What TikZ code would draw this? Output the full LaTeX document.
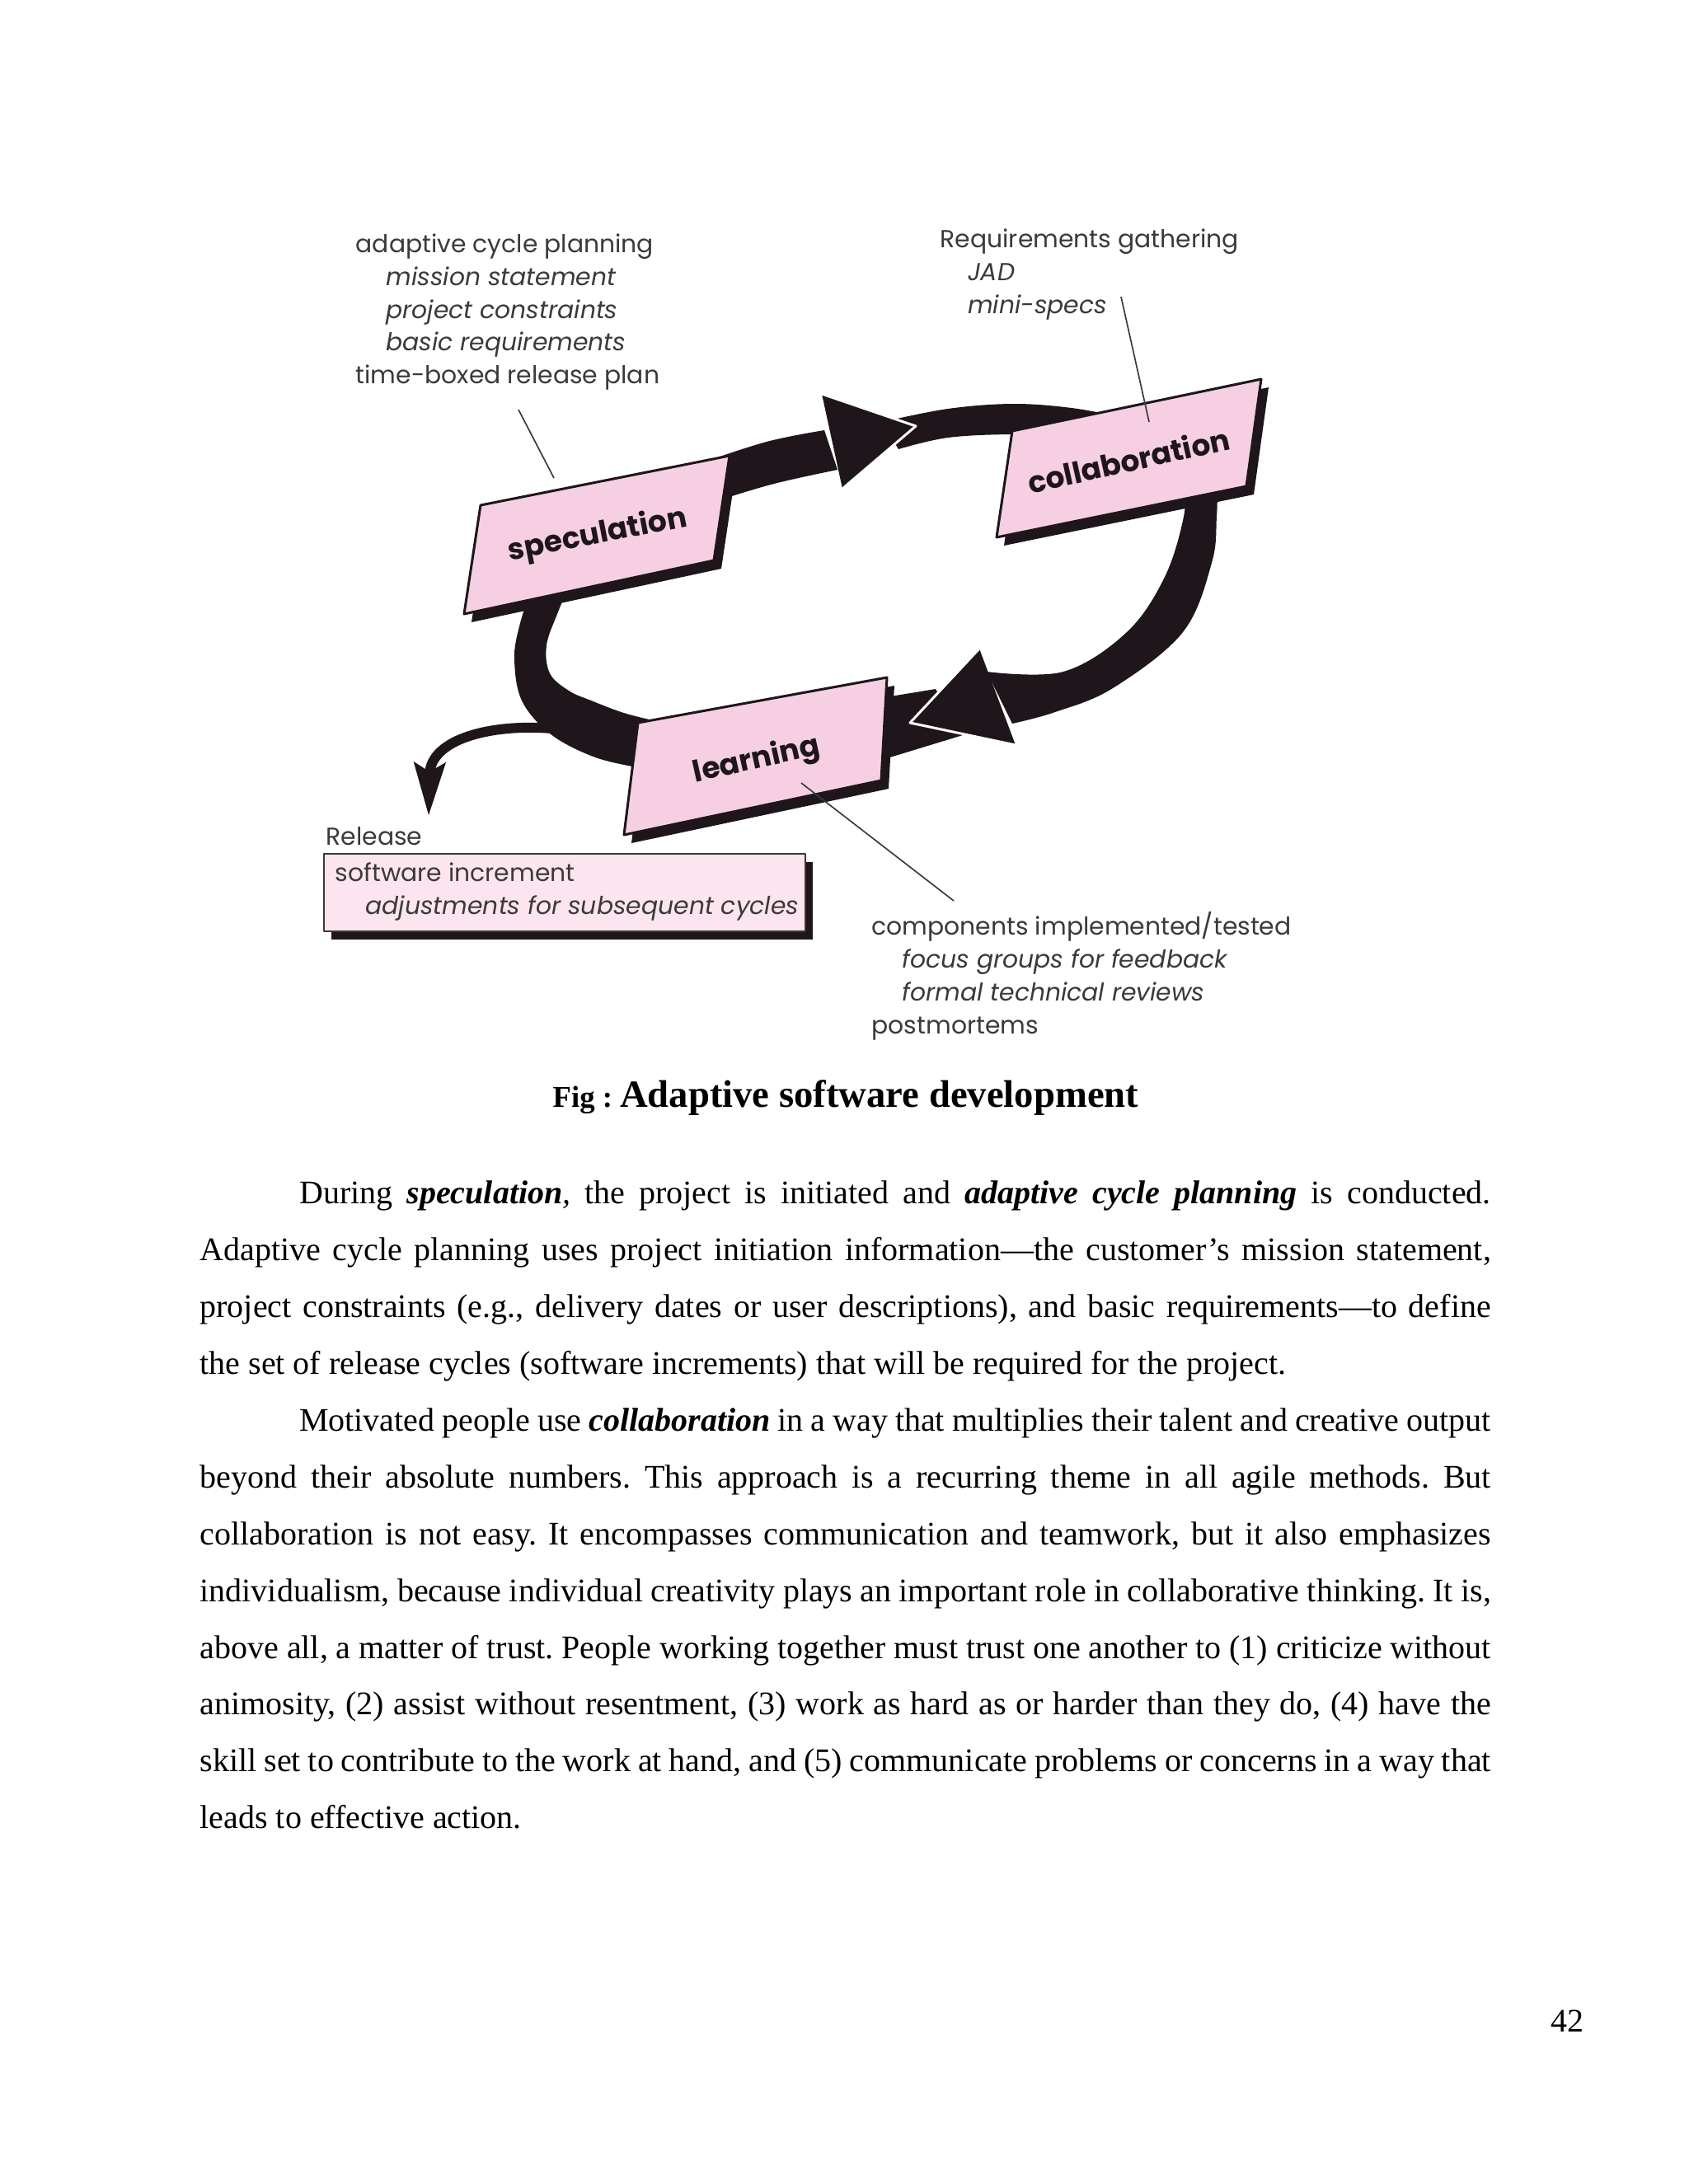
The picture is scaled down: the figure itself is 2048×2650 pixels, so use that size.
\documentclass[tikz,border=0pt]{standalone}
\usepackage{fontspec}
\setmainfont{Liberation Serif}
\newfontfamily\figfont{Poppins}
\usetikzlibrary{arrows.meta}

\definecolor{phasepink}{RGB}{246,208,226}
\definecolor{notepink}{RGB}{252,229,239}
\definecolor{ink}{RGB}{30,22,27}
\definecolor{notegray}{RGB}{58,58,58}

\begin{document}
\frenchspacing
\begin{tikzpicture}[
  x=0.29883bp,
  y=-0.29883bp,
  line join=round,
  band/.style={fill=ink},
  tipedge/.style={draw=white, line width=0.9bp},
  shade/.style={fill=ink},
  phase/.style={fill=phasepink, draw=ink, line width=0.9bp},
  notebox/.style={fill=notepink, draw=notegray, line width=0.8bp},
  phaselabel/.style={font=\figfont\bfseries\fontsize{10.8}{12}\selectfont, text=ink},
  note/.style={font=\figfont\fontsize{8.95}{11.95}\selectfont, text=notegray, align=left},
  leader/.style={draw=notegray, line width=0.5bp},
  release/.style={draw=ink, line width=3.6bp, -{Stealth[length=19bp,width=11bp,inset=3bp]}},
  para/.style={font=\fontsize{12}{20.68}\selectfont, text width=468bp, align=justify, anchor=north west},
  every node/.style={inner sep=0}
]
\path[use as bounding box] (0,0) rectangle (2048,2650);
\fill[white] (0,0) rectangle (2048,2650);

% Cycle bands
\fill[band] plot[smooth, tension=0.6] coordinates {(645,712) (630,760) (624,800) (633,850) (667,890) (717,917) (767,930) (810,936)}
  -- plot[smooth, tension=0.6] coordinates {(810,878) (760,866) (717,850) (690,838) (667,817) (663,783) (676,745) (690,712)} -- cycle;

\fill[band] plot[smooth, tension=0.6] coordinates {(850,562) (930,536) (1000,522)}
  -- plot[smooth, tension=0.6] coordinates {(1016,570) (935,588) (850,614)} -- cycle;
\fill[band] plot[smooth, tension=0.6] coordinates {(1070,512) (1150,496) (1229,490) (1300,495) (1360,506)}
  -- (1360,545) -- plot[smooth, tension=0.6] coordinates {(1290,530) (1229,527) (1150,531) (1090,545)} -- cycle;
\fill[band] (997,478) -- (1111,517) -- (1022,593) -- cycle;
\draw[tipedge] (997,478) -- (1111,517) -- (1022,593);

\fill[band] plot[smooth, tension=0.6] coordinates {(1477,585) (1476,627) (1470,683) (1435,767) (1350,835) (1280,864) (1228,878)}
  -- plot[smooth, tension=0.6] coordinates {(1197,815) (1290,815) (1367,767) (1413,700) (1436,627) (1437,585)} -- cycle;
\fill[band] (1050,850) -- (1135,836) -- (1168,892) -- (1050,928) -- cycle;
\fill[band] (1188,787) -- (1104,877) -- (1232,904) -- cycle;
\draw[tipedge] (1188,787) -- (1104,877) -- (1232,904);

% Release branch
\coordinate (relFrom) at (670,884);
\coordinate (relTo) at (520,990);
\draw[release] (relFrom) .. controls (600,878) and (522,895) .. (relTo);

% Phase boxes
\fill[shade, shift={(9,10)}] (583,613) -- (885,553) -- (866,680) -- (563,745) -- cycle;
\draw[phase] (583,613) -- (885,553) -- (866,680) -- (563,745) -- cycle;
\node[phaselabel, rotate=11] (spec) at (725,650) {speculation};

\fill[shade, shift={(9,10)}] (1228,523) -- (1530,460) -- (1512,590) -- (1209,652) -- cycle;
\draw[phase] (1228,523) -- (1530,460) -- (1512,590) -- (1209,652) -- cycle;
\node[phaselabel, rotate=12.5] (collab) at (1369,558) {collaboration};

\fill[shade, shift={(9,10)}] (774,877) -- (1076,822) -- (1069,947) -- (757,1013) -- cycle;
\draw[phase] (774,877) -- (1076,822) -- (1069,947) -- (757,1013) -- cycle;
\node[phaselabel, rotate=12.5] (learn) at (918,923) {learning};

% Notes and leaders
\node[note, anchor=north west] (planNote) at (431,283)
  {adaptive cycle planning\\
   \hspace*{11bp}\textit{mission statement}\\
   \hspace*{11bp}\textit{project constraints}\\
   \hspace*{11bp}\textit{basic requirements}\\
   time-boxed release plan};
\coordinate (planA) at (629,497);
\coordinate (planB) at (672,580);
\draw[leader] (planA) -- (planB);

\node[note, anchor=north west] (reqNote) at (1140,277)
  {Requirements gathering\\
   \hspace*{10bp}\textit{JAD}\\
   \hspace*{10bp}\textit{mini-specs}};
\coordinate (reqA) at (1360,360);
\coordinate (reqB) at (1394,512);
\draw[leader] (reqA) -- (reqB);

\coordinate (learnA) at (972,950);
\coordinate (learnB) at (1157,1093);
\draw[leader] (learnA) -- (learnB);
\node[note, anchor=north west] (learnNote) at (1057,1106)
  {components implemented/tested\\
   \hspace*{11bp}\textit{focus groups for feedback}\\
   \hspace*{11bp}\textit{formal technical reviews}\\
   postmortems};

% Release box
\node[note, anchor=west] (relLabel) at (395,1015) {Release};
\fill[shade] (402,1046) rectangle (986,1140);
\draw[notebox] (393,1036) rectangle (977,1130);
\node[note, anchor=north west] (relNote) at (406,1046)
  {software increment\\
   \hspace*{11bp}\textit{adjustments for subsequent cycles}};

% Caption, text and page number
\node[anchor=base] (caption) at (1026,1343)
  {\bfseries\fontsize{11}{13}\selectfont Fig : \fontsize{14}{16}\selectfont Adaptive software development};

\node[para] (body) at (242,1432)
  {\hspace*{36bp}During \textbf{\textit{speculation}}\textit{,} the project is initiated and \textbf{\textit{adaptive cycle planning}} is conducted.\linebreak
  Adaptive cycle planning uses project initiation information—the customer’s mission statement,\linebreak
  project constraints (e.g., delivery dates or user descriptions), and basic requirements—to define\linebreak
  the set of release cycles (software increments) that will be required for the project.\par
  \hspace*{36bp}Motivated people use \textbf{\textit{collaboration}} in a way that multiplies their talent and creative output\linebreak
  beyond their absolute numbers. This approach is a recurring theme in all agile methods. But\linebreak
  collaboration is not easy. It encompasses communication and teamwork, but it also emphasizes\linebreak
  individualism, because individual creativity plays an important role in collaborative thinking. It is,\linebreak
  above all, a matter of trust. People working together must trust one another to (1) criticize without\linebreak
  animosity, (2) assist without resentment, (3) work as hard as or harder than they do, (4) have the\linebreak
  skill set to contribute to the work at hand, and (5) communicate problems or concerns in a way that\linebreak
  leads to effective action.};

\node[anchor=base, font=\fontsize{12}{14}\selectfont] (pageNo) at (1901,2465) {42};

\end{tikzpicture}
\end{document}
